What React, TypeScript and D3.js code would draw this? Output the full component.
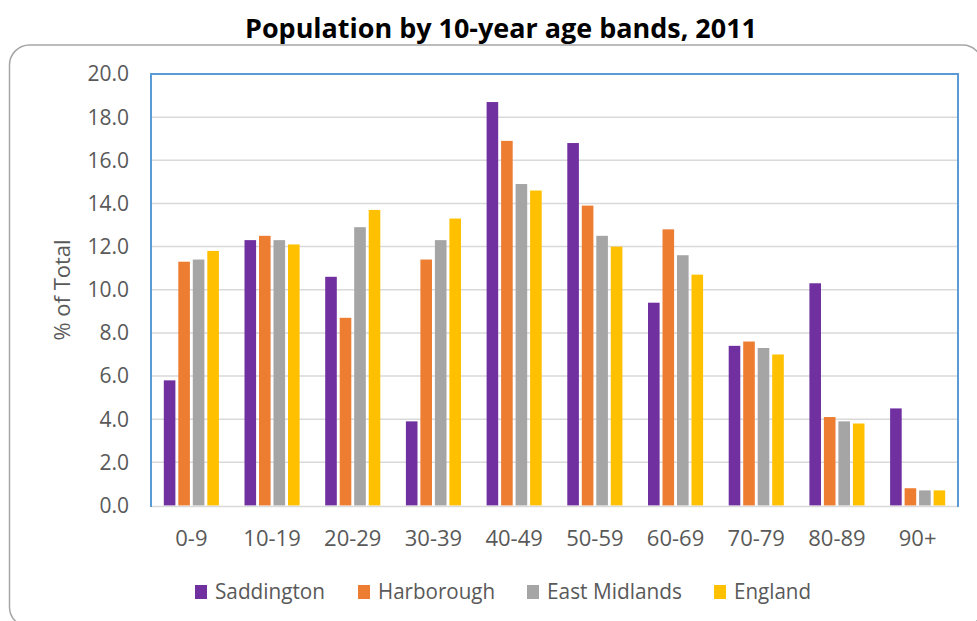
import React from "react";
import * as d3 from "d3";

const categories = ["0-9", "10-19", "20-29", "30-39", "40-49", "50-59", "60-69", "70-79", "80-89", "90+"];
const seriesNames = ["Saddington", "Harborough", "East Midlands", "England"];
const saddington = [5.8, 12.3, 10.6, 3.9, 18.7, 16.8, 9.4, 7.4, 10.3, 4.5];
const harborough = [11.3, 12.5, 8.7, 11.4, 16.9, 13.9, 12.8, 7.6, 4.1, 0.8];
const eastMidlands = [11.4, 12.3, 12.9, 12.3, 14.9, 12.5, 11.6, 7.3, 3.9, 0.7];
const england = [11.8, 12.1, 13.7, 13.3, 14.6, 12.0, 10.7, 7.0, 3.8, 0.7];
const yTicks = [0, 2, 4, 6, 8, 10, 12, 14, 16, 18, 20];
const colors = ["#7030A0", "#ED7D31", "#A5A5A5", "#FFC000"];

const W = 977;
const H = 621;
const left = 151;
const right = 958;
const top = 74;
const bottom = 505.5;
const FONT = "'Open Sans', 'Noto Sans', sans-serif";

export default function App() {
  const values = [saddington, harborough, eastMidlands, england];
  const x0 = d3.scaleBand<string>().domain(categories).range([left, right]).padding(0);
  const x1 = d3
    .scaleBand<string>()
    .domain(seriesNames)
    .range([12.8, x0.bandwidth() - 12.8])
    .paddingInner(0.2)
    .paddingOuter(0);
  const y = d3.scaleLinear().domain([0, 20]).range([bottom, top]);

  const legendX = [195, 358, 527, 714];
  const legendW = [110, 117, 135, 77];

  return (
    <div style={{ position: "absolute", left: 0, top: 0 }}>
      <svg width={W} height={H} style={{ display: "block", background: "#fff" }}>
        <text
          x={501}
          y={38}
          textAnchor="middle"
          fontFamily={FONT}
          fontWeight="bold"
          fontSize={26}
          fill="#000"
          textLength={512}
          lengthAdjust="spacingAndGlyphs"
        >
          Population by 10-year age bands, 2011
        </text>
        <rect x={9.5} y={45} width={973} height={582} rx={20} ry={20} fill="#fff" stroke="#A6A6A6" strokeWidth={1.5} />
        {yTicks.slice(1, -1).map((t) => (
          <line key={"g" + t} x1={left} x2={right} y1={y(t)} y2={y(t)} stroke="#D9D9D9" strokeWidth={1.5} />
        ))}
        {values.map((vals, si) =>
          vals.map((v, ci) => (
            <rect
              key={si + "-" + ci}
              x={(x0(categories[ci]) as number) + (x1(seriesNames[si]) as number)}
              y={y(v)}
              width={x1.bandwidth()}
              height={y(0) - y(v)}
              fill={colors[si]}
            />
          ))
        )}
        <line x1={left} x2={right} y1={bottom + 1} y2={bottom + 1} stroke="#D9D9D9" strokeWidth={1.5} />
        <path
          d={`M${left},${bottom + 1.5}V${top}H${right}V${bottom + 1.5}`}
          fill="none"
          stroke="#5B9BD5"
          strokeWidth={2}
        />
        {yTicks.map((t) => (
          <text
            key={"t" + t}
            x={129}
            y={y(t)}
            dy="0.35em"
            textAnchor="end"
            fontFamily={FONT}
            fontSize={21}
            fill="#595959"
          >
            {t.toFixed(1)}
          </text>
        ))}
        {categories.map((c) => (
          <text
            key={"c" + c}
            x={(x0(c) as number) + x0.bandwidth() / 2}
            y={538}
            dy="0.35em"
            textAnchor="middle"
            fontFamily={FONT}
            fontSize={22}
            fill="#595959"
          >
            {c}
          </text>
        ))}
        <text
          transform={`translate(62,290) rotate(-90)`}
          textAnchor="middle"
          dy="0.35em"
          fontFamily={FONT}
          fontSize={22}
          fill="#595959"
        >
          % of Total
        </text>
        {seriesNames.map((s, i) => (
          <g key={"l" + s}>
            <rect x={legendX[i]} y={585} width={12} height={14} fill={colors[i]} />
            <text
              x={legendX[i] + 20}
              y={592}
              dy="0.35em"
              fontFamily={FONT}
              fontSize={21}
              fill="#595959"
              textLength={legendW[i]}
              lengthAdjust="spacingAndGlyphs"
            >
              {s}
            </text>
          </g>
        ))}
      </svg>
    </div>
  );
}
